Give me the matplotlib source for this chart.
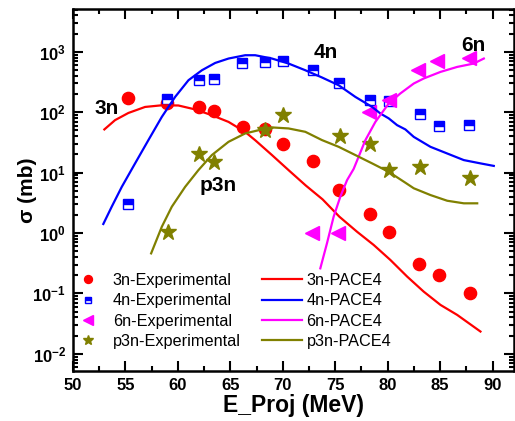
import math
import matplotlib
matplotlib.use("Agg")
import matplotlib.pyplot as plt
from matplotlib.ticker import MultipleLocator, LogLocator, FuncFormatter, NullFormatter

plt.rcParams['font.family'] = ['Liberation Sans', 'DejaVu Sans']
plt.rcParams['mathtext.fontset'] = 'custom'
plt.rcParams['mathtext.rm'] = 'Liberation Sans:bold'
plt.rcParams['mathtext.it'] = 'Liberation Sans:bold'
plt.rcParams['mathtext.bf'] = 'Liberation Sans:bold'
plt.rcParams['mathtext.default'] = 'rm'

# Experimental data
e3n = [55.2, 59.0, 62.0, 63.4, 66.2, 68.3, 70.0, 72.9, 75.4, 78.3, 80.1, 83.0, 84.85, 87.9]
s3n = [170, 140, 121, 105, 56, 52, 30, 15.5, 5.1, 2.06, 1.04, 0.307, 0.20, 0.10]

e4n = [55.25, 59.0, 62.0, 63.4, 66.1, 68.3, 70.0, 72.9, 75.4, 78.3, 80.1, 83.1, 84.85, 87.8]
s4n = [3.0, 163, 338, 351, 647, 670, 695, 495, 302, 158, 152, 93, 59, 61]

e6n = [72.8, 75.3, 78.2, 80.1, 82.9, 84.75, 87.8]
s6n = [1.0, 1.0, 100, 160, 495, 695, 780]

ep3n = [59.05, 62.0, 63.4, 68.3, 70.0, 75.5, 78.3, 80.1, 83.1, 87.9]
sp3n = [1.04, 20.2, 15, 50, 89, 40, 30, 11, 12.3, 8.1]

# PACE4 curves
c3n_e = [52.99, 54.01, 55.28, 56.87, 58.47, 60.05, 61.65, 63.24, 64.83, 66.42, 67.4,
         68.97, 70.6, 72.2, 73.8, 75.4, 77.08, 78.67, 80.26, 81.86, 83.44, 85.04, 86.63, 88.85]
c3n_s = [51.8, 73.8, 97, 122, 130, 129, 111, 89, 69, 47, 34,
         19.5, 10.8, 6.1, 3.6, 1.86, 1.05, 0.634, 0.358, 0.19, 0.107, 0.0645, 0.0441, 0.0234]

c4n_e = [52.89, 53.69, 54.65, 55.92, 57.19, 58.47, 59.74, 61.01, 62.29, 63.56, 64.83, 66.42,
         67.37, 68.97, 70.55, 72.15, 73.74, 75.33, 76.92, 78.52, 79.31, 80.1, 80.9, 81.69,
         82.49, 84.08, 85.68, 87.26, 88.85, 90.12]
c4n_s = [1.41, 2.72, 5.8, 14.2, 34.5, 83.6, 179, 338, 494, 653, 772, 876,
         876, 772, 638, 494, 375, 279, 179, 122, 95, 79, 61, 51.8,
         39, 26.7, 20.7, 16.1, 14.2, 12.9]

c6n_e = [73.58, 74.22, 74.85, 75.49, 76.13, 76.76, 77.88, 78.83, 80.1, 81.21, 82.49,
         83.44, 85.04, 86.63, 88.21, 89.17]
c6n_s = [0.26, 0.68, 1.86, 4.0, 7.5, 11.5, 34.5, 69, 139, 204, 298,
         361, 464, 561, 638, 772]

cp3n_e = [57.45, 58.47, 59.42, 60.69, 61.96, 63.24, 64.83, 66.42, 68.01, 68.97, 70.55, 72.15,
          73.74, 75.33, 76.92, 78.52, 80.1, 81.69, 82.49, 84.08, 85.68, 87.26, 88.54]
cp3n_s = [0.46, 1.27, 2.72, 5.8, 11, 19.5, 32.3, 44.5, 51.8, 55.9, 53.8, 47.3,
          34.5, 26.7, 19.5, 14.2, 10.3, 6.8, 5.5, 4.25, 3.42, 3.1, 3.1]

RED, BLUE, MAG, OLIVE = '#FF0000', '#0000FF', '#FF00FF', '#808000'

fig = plt.figure(figsize=(5.15, 4.21), dpi=100)
W, H = 515, 421
ax = fig.add_axes([73 / W, 1 - 371 / H, (513.5 - 73) / W, (371 - 9) / H])

h1, = ax.plot(e3n, s3n, 'o', color=RED, ms=8.8, ls='none', label='3n-Experimental')
h2, = ax.plot(e4n, s4n, 's', color=BLUE, mec=BLUE, mfc=BLUE, fillstyle='top',
              markerfacecoloralt='white', ms=6.5, mew=1.0, ls='none', label='4n-Experimental')
h3, = ax.plot(e6n, s6n, '<', color=MAG, ms=10, ls='none', label='6n-Experimental')
h4, = ax.plot(ep3n, sp3n, '*', color=OLIVE, ms=12, ls='none', label='p3n-Experimental')

l1, = ax.plot(c3n_e, c3n_s, '-', color=RED, lw=1.6, label='3n-PACE4', solid_joinstyle='round')
l2, = ax.plot(c4n_e, c4n_s, '-', color=BLUE, lw=1.6, label='4n-PACE4', solid_joinstyle='round')
l3, = ax.plot(c6n_e, c6n_s, '-', color=MAG, lw=1.6, label='6n-PACE4', solid_joinstyle='round')
l4, = ax.plot(cp3n_e, cp3n_s, '-', color=OLIVE, lw=1.6, label='p3n-PACE4', solid_joinstyle='round')

ax.set_yscale('log')
ax.set_xlim(50, 92)
ax.set_ylim(0.0052, 5100)

ax.xaxis.set_major_locator(MultipleLocator(5))
ax.xaxis.set_minor_locator(MultipleLocator(2.5))
ax.yaxis.set_major_locator(LogLocator(base=10, numticks=20))
ax.yaxis.set_minor_locator(LogLocator(base=10, subs=range(2, 10), numticks=20))
ax.yaxis.set_minor_formatter(NullFormatter())

def yfmt(v, pos):
    e = int(round(math.log10(v)))
    return r'$10^{%d}$' % e
ax.yaxis.set_major_formatter(FuncFormatter(yfmt))

ax.tick_params(which='both', direction='in', top=True, right=True, width=1.5)
ax.tick_params(which='major', length=7, labelsize=12, pad=5)
ax.tick_params(which='minor', length=3.6)
for lab in ax.get_xticklabels():
    lab.set_fontweight('bold')
for sp in ax.spines.values():
    sp.set_linewidth(1.8)

ax.set_xlabel('E_Proj (MeV)', fontsize=16.5, fontweight='bold', labelpad=1)
ax.set_ylabel('σ (mb)', fontsize=15, fontweight='bold', labelpad=-3)

ax.text(53.25, 116, '3n', fontsize=15, fontweight='bold', ha='center', va='center')
ax.text(74.1, 980, '4n', fontsize=15, fontweight='bold', ha='center', va='center')
ax.text(88.2, 1280, '6n', fontsize=15, fontweight='bold', ha='center', va='center')
ax.text(63.84, 6.2, 'p3n', fontsize=15, fontweight='bold', ha='center', va='center')

leg = ax.legend(handles=[h1, h2, h3, h4, l1, l2, l3, l4], ncol=2, frameon=False,
                fontsize=11.7, markerscale=0.65, handlelength=2.45, handletextpad=0.3,
                columnspacing=1.3, labelspacing=0.33, borderpad=0, borderaxespad=0,
                loc='upper left', bbox_to_anchor=((68 - 73) / 440.5, (371 - 273) / 362))

fig.savefig('out.png', dpi=100)
